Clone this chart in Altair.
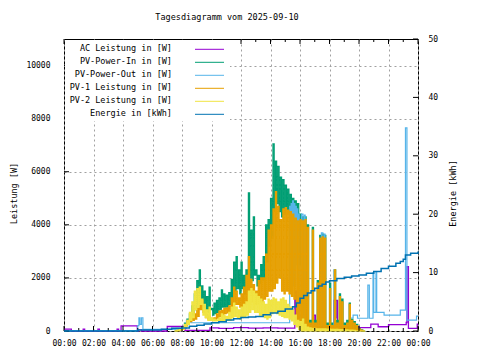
import json
import altair as alt
import pandas as pd

# ---------------- texts / ticks ----------------
title_text = "Tagesdiagramm vom 2025-09-10"
y_title = "Leistung [W]"
y2_title = "Energie [kWh]"
x_tick_labels = ["00:00", "02:00", "04:00", "06:00", "08:00", "10:00", "12:00",
                 "14:00", "16:00", "18:00", "20:00", "22:00", "00:00"]
x_major_ticks = [0, 2, 4, 6, 8, 10, 12, 14, 16, 18, 20, 22, 24]
x_minor_ticks = [1, 3, 5, 7, 9, 11, 13, 15, 17, 19, 21, 23]
y_ticks = [0, 2000, 4000, 6000, 8000, 10000]
e_ticks = [0, 10, 20, 30, 40, 50]
series_names = ["AC Leistung in [W]", "PV-Power-In in [W]", "PV-Power-Out in [W]",
                "PV-1 Leistung in [W]", "PV-2 Leistung in [W]", "Energie in [kWh]"]
series_colors = ["#9400d3", "#009e73", "#56b4e9", "#e69f00", "#f0e442", "#0072b2"]

# ---------------- AC Leistung (hours, W) ----------------
ac_t = [0.0, 0.5, 1.3, 1.4, 2.3, 2.4, 3.6, 3.7, 3.87, 4.97, 5.05, 5.25, 7.0, 8.2,
        9.9, 10.5, 11.5, 12.5, 13.5, 14.5, 15.65, 15.7, 15.75, 15.8, 15.85, 15.9,
        15.95, 16.3, 16.45, 16.95, 17.05, 17.5, 17.6, 18.3, 18.35, 18.45, 18.55,
        18.7, 20.0, 20.8, 21.3, 22.0, 23.2, 23.25, 23.35, 23.95, 24.0]
ac_w = [70, 0, 70, 0, 70, 0, 70, 0, 190, 0, 40, 0, 170, 20,
        120, 100, 130, 110, 120, 110, 1500, 600, 1500, 400, 1500, 900,
        200, 1300, 150, 600, 150, 300, 150, 1150, 500, 1150, 300,
        160, 125, 260, 160, 240, 320, 2420, 100, 260, 260]

# ---------------- PV-Power-Out (hours, W) ----------------
out_t = [0.0, 4.9, 5.0, 5.08, 5.15, 5.25, 5.35, 7.6, 8.3, 8.6, 15.3, 15.35, 15.4,
         15.45, 15.5, 15.55, 15.6, 15.65, 15.7, 15.75, 15.8, 15.85, 15.9, 15.95,
         16.1, 16.2, 16.3, 16.35, 17.45, 17.55, 17.65, 17.7, 18.3, 18.35, 19.4,
         19.6, 19.9, 20.6, 20.7, 20.95, 21.0, 21.15, 21.2, 21.7, 22.8, 23.15,
         23.25, 23.9, 24.0]
out_w = [15, 15, 200, 500, 250, 500, 60, 100, 400, 310, 4700, 1700, 4800,
         2000, 4900, 1700, 4800, 1700, 4700, 2500, 4600, 1700, 4400, 300,
         4400, 300, 4370, 200, 3700, 200, 3650, 200, 2300, 200, 490,
         600, 480, 1730, 480, 2200, 700, 2200, 700, 600, 790, 7650,
         410, 560, 560]

# ---------------- Energie (hours, kWh) ----------------
energy_t = [0.0, 5.0, 6.6, 7.3, 8.0, 8.5, 9.0, 9.5, 10.0, 10.5, 11.0, 11.5, 12.0,
            12.5, 13.0, 13.5, 14.0, 14.5, 15.0, 15.5, 15.75, 16.0, 16.25, 16.5,
            16.75, 17.0, 17.25, 17.5, 17.75, 18.0, 18.5, 19.0, 19.5, 20.0, 20.5,
            21.0, 21.5, 22.0, 22.5, 22.8, 23.0, 23.15, 23.5, 24.0]
energy_kwh = [0.0, 0.15, 0.3, 0.45, 0.5, 0.8, 1.0, 1.2, 1.4, 1.6, 1.9, 2.1, 2.3,
              2.4, 2.5, 2.8, 3.1, 3.4, 3.75, 4.15, 4.8, 5.6, 6.1, 6.5,
              6.9, 7.3, 7.7, 8.0, 8.4, 8.6, 9.0, 9.2, 9.4, 9.6, 9.9,
              10.2, 10.7, 11.1, 11.6, 11.9, 12.3, 13.0, 13.3, 13.6]

# ---------------- PV values, 10-minute slots from 07:30 (high / low reading) ----------------
slot_start_h = 7.5
slot_h = 1.0 / 6.0
pv_in_hi = [0, 30, 80, 150, 300, 450, 650, 950, 1400, 1900,
            2300, 1700, 1500, 1300, 1650, 850, 1050, 1150, 1250, 1550,
            1400, 1350, 1450, 1950, 2600, 2800, 2300, 2600, 2100, 2300,
            5200, 3800, 4300, 2300, 2100, 2500, 2800, 4000, 4200, 5000,
            7050, 6400, 6200, 5800, 5700, 5500, 5350, 5150, 5000, 4900,
            4800, 4400, 4300, 4300, 4000, 400, 3900, 400, 1900, 3600,
            3650, 3600, 300, 1800, 300, 2300, 400, 1400, 1200, 300,
            400, 1050, 450, 350, 250, 100, 40, 0]
pv_in_lo = [0, 20, 50, 100, 200, 350, 450, 600, 800, 1000,
            1200, 900, 800, 700, 800, 600, 650, 700, 800, 900,
            900, 900, 1000, 1200, 1500, 1600, 1400, 1600, 1400, 1500,
            2000, 1900, 2100, 1700, 1800, 1900, 2000, 2600, 3200, 3500,
            4500, 4800, 4500, 4300, 4400, 4500, 4400, 4300, 4200, 3500,
            2500, 300, 200, 200, 150, 150, 150, 150, 150, 150,
            150, 150, 150, 150, 150, 150, 150, 100, 100, 100,
            80, 80, 60, 50, 30, 20, 0, 0]
pv1_hi = [0, 20, 60, 120, 220, 380, 460, 500, 650, 850,
          1300, 1150, 750, 620, 560, 480, 500, 650, 750, 780,
          850, 870, 950, 1250, 1650, 1500, 1250, 1400, 1650, 2100,
          2800, 1950, 1750, 1500, 1900, 2000, 2000, 2900, 3800, 4000,
          4600, 5250, 4700, 4200, 4600, 4650, 4550, 4500, 4400, 4250,
          4150, 4200, 4150, 4200, 3900, 300, 3800, 300, 1800, 3500,
          3550, 3500, 200, 1600, 200, 2300, 300, 1300, 1100, 200,
          300, 1000, 400, 300, 200, 80, 30, 0]
pv1_lo = [0, 10, 40, 80, 150, 250, 350, 400, 450, 550,
          800, 700, 500, 450, 420, 400, 400, 480, 550, 600,
          650, 680, 700, 850, 1000, 1000, 900, 900, 1000, 1100,
          1300, 1100, 1000, 1000, 1100, 1100, 1200, 1300, 1500, 1500,
          1600, 1800, 2000, 1500, 1400, 1500, 1400, 1300, 1200, 400,
          200, 100, 60, 60, 60, 50, 50, 50, 50, 50,
          50, 50, 50, 50, 50, 50, 50, 40, 40, 40,
          30, 30, 30, 20, 20, 10, 0, 0]
pv2_hi = [0, 20, 60, 120, 250, 400, 700, 1100, 1500, 1600,
          1650, 1200, 1000, 800, 900, 500, 450, 420, 500, 650,
          600, 550, 700, 900, 1050, 900, 800, 900, 1000, 1100,
          1500, 1600, 1500, 1400, 1300, 1200, 1100, 1000, 1200, 1150,
          1250, 1200, 1100, 1200, 1250, 1150, 1000, 900, 800, 600,
          400, 350, 450, 250, 150, 120, 100, 100, 80, 80,
          80, 80, 70, 70, 60, 60, 60, 50, 50, 40,
          40, 30, 30, 20, 10, 0, 0, 0]
pv2_lo = [0, 10, 30, 60, 150, 250, 400, 500, 800, 900,
          1000, 600, 500, 400, 400, 380, 380, 380, 380, 400,
          400, 400, 400, 500, 550, 500, 450, 500, 550, 600,
          700, 800, 700, 700, 600, 550, 500, 450, 500, 650,
          700, 650, 600, 550, 500, 500, 450, 380, 250, 150,
          50, 0, 0, 0, 0, 0, 0, 0, 0, 0,
          0, 0, 0, 0, 0, 0, 0, 0, 0, 0,
          0, 0, 0, 0, 0, 0, 0, 0]


def slot_frame(hi, lo):
    rows = []
    for i, (h, l) in enumerate(zip(hi, lo)):
        t0 = slot_start_h + i * slot_h
        rows.append({"t": t0, "v": h})
        rows.append({"t": t0 + slot_h / 2, "v": l})
    return pd.DataFrame(rows)


ac_df = pd.DataFrame({"t": ac_t, "v": ac_w})
out_df = pd.DataFrame({"t": out_t, "v": out_w})
in_df = slot_frame(pv_in_hi, pv_in_lo)
pv1_df = slot_frame(pv1_hi, pv1_lo)
pv2_df = slot_frame(pv2_hi, pv2_lo)
energy_df = pd.DataFrame({"t": energy_t, "v": energy_kwh})

# ---------------- layout ----------------
W, H = 354, 292
FONT = "DejaVu Sans Mono"
xscale = alt.Scale(domain=[0, 24], nice=False, zero=False)
yscale = alt.Scale(domain=[0, 11000], nice=False)
escale = alt.Scale(domain=[0, 50], nice=False)

x_axis = alt.Axis(
    values=x_major_ticks,
    labelExpr=f"{json.dumps(x_tick_labels)}[indexof({json.dumps(x_major_ticks)}, datum.value)]",
    title="", grid=True, gridColor="#a0a0a0", gridDash=[2, 3], gridWidth=1,
    tickSize=0, domain=False, labelFont=FONT, labelFontSize=8, labelColor="black",
    labelPadding=8, labelOverlap=False, labelFlush=False, labelBound=False,
)
y_axis = alt.Axis(
    values=y_ticks, format="d", title=y_title, grid=True, gridColor="#a0a0a0",
    gridDash=[2, 3], gridWidth=1, tickSize=0, domain=False, labelFont=FONT,
    labelFontSize=8, labelColor="black", labelPadding=14, titleFont=FONT,
    titleFontSize=8.5, titleFontWeight="normal", titleColor="black", titleAngle=270,
    titleX=-51, titleY=154, titleAlign="center", titleBaseline="middle",
)
e_axis = alt.Axis(
    values=e_ticks, format="d", orient="right", title=y2_title, grid=False,
    tickSize=0, domain=False, labelFont=FONT, labelFontSize=8, labelColor="black",
    labelPadding=10, titleFont=FONT, titleFontSize=8.5, titleFontWeight="normal",
    titleColor="black", titleAngle=270, titleX=34, titleY=154, titleAlign="center",
    titleBaseline="middle",
)

X = alt.X("t:Q", scale=xscale, axis=x_axis)
Y = alt.Y("v:Q", scale=yscale, axis=y_axis)
E = alt.Y("v:Q", scale=escale, axis=e_axis)


def power_line(df, color, sw=1.2):
    return alt.Chart(df).mark_line(
        interpolate="step-after", color=color, strokeWidth=sw
    ).encode(x=X, y=Y)


left_layers = [
    power_line(ac_df, series_colors[0], 1.3),
    power_line(in_df, series_colors[1]),
    power_line(out_df, series_colors[2], 1.2),
    power_line(pv1_df, series_colors[3]),
    power_line(pv2_df, series_colors[4]),
]

# inward ticks (gnuplot style)
ytick_df = pd.DataFrame({"v": y_ticks})
left_layers.append(
    alt.Chart(ytick_df).mark_rule(color="black", strokeWidth=1).encode(
        y=Y, x=alt.value(0), x2=alt.value(5)))
maj_df = pd.DataFrame({"t": x_major_ticks})
min_df = pd.DataFrame({"t": x_minor_ticks})
for df, ln in ((maj_df, 5), (min_df, 3)):
    left_layers.append(
        alt.Chart(df).mark_rule(color="black", strokeWidth=1).encode(
            x=X, y=alt.value(H), y2=alt.value(H - ln)))
    left_layers.append(
        alt.Chart(df).mark_rule(color="black", strokeWidth=1).encode(
            x=X, y=alt.value(0), y2=alt.value(ln)))

left = alt.layer(*left_layers)

etick_df = pd.DataFrame({"v": e_ticks})
right_layers = [
    alt.Chart(energy_df).mark_line(
        interpolate="step-after", color=series_colors[5], strokeWidth=1.5
    ).encode(x=X, y=E),
    alt.Chart(etick_df).mark_rule(color="black", strokeWidth=1).encode(
        y=E, x=alt.value(W), x2=alt.value(W - 5)),
]

# legend (opaque key box, top left)
one = alt.Data(values=[{}])
right_layers.append(
    alt.Chart(one).mark_rect(fill="white").encode(
        x=alt.value(1), x2=alt.value(166), y=alt.value(1), y2=alt.value(82)))
for k, (name, col) in enumerate(zip(series_names, series_colors)):
    right_layers.append(
        alt.Chart(one).mark_text(
            text=name, align="right", baseline="middle", font=FONT, fontSize=8.5,
            color="black").encode(x=alt.value(108), y=alt.value(9.3 + 13 * k)))
    right_layers.append(
        alt.Chart(one).mark_rule(color=col, strokeWidth=1).encode(
            x=alt.value(131), x2=alt.value(160), y=alt.value(10.3 + 13 * k)))

right = alt.layer(*right_layers)

chart = alt.layer(left, right).resolve_scale(y="independent").properties(
    width=W, height=H,
    title=alt.TitleParams(title_text, font=FONT, fontSize=8.5, fontWeight="normal",
                          color="black", anchor="middle", dx=-14, offset=14),
    autosize=alt.AutoSizeParams(type="none"),
    padding={"left": 56, "top": 31, "right": 50, "bottom": 20},
    background="white",
).configure_view(stroke="black", strokeWidth=1)

chart.save("out.html", embed_options={"renderer": "svg", "actions": False})
